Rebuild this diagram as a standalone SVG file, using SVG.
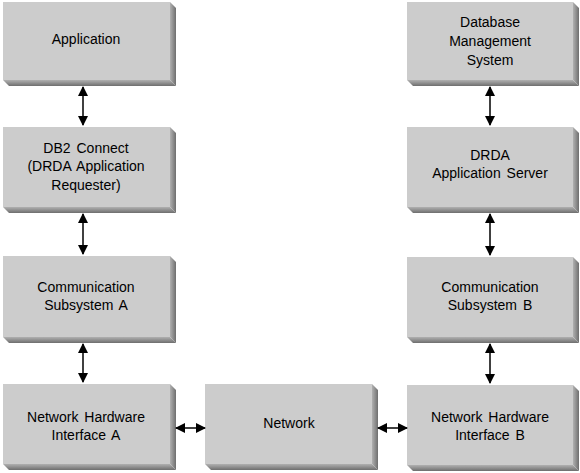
<svg xmlns="http://www.w3.org/2000/svg" width="580" height="473" viewBox="0 0 580 473">
<style>
.face{fill:#cccccc}
.rb{fill:url(#gr)}
.bb{fill:url(#gb)}
text{font-family:"Liberation Sans",Arial,sans-serif;font-size:14px;fill:#000;text-anchor:middle;word-spacing:2px}
.c line{stroke:#000;stroke-width:1.5;marker-start:url(#ah);marker-end:url(#ah)}
</style>
<defs>
<linearGradient id="gr" x1="0" y1="0" x2="1" y2="0">
<stop offset="0" stop-color="#b0b0b0"/><stop offset="0.5" stop-color="#909090"/><stop offset="1" stop-color="#6e6e6e"/>
</linearGradient>
<linearGradient id="gb" x1="0" y1="0" x2="0" y2="1">
<stop offset="0" stop-color="#b0b0b0"/><stop offset="0.5" stop-color="#909090"/><stop offset="1" stop-color="#6e6e6e"/>
</linearGradient>
<marker id="ah" markerWidth="10" markerHeight="10" refX="9" refY="5" orient="auto-start-reverse" markerUnits="userSpaceOnUse" viewBox="0 0 10 10">
<path d="M0,0 L10,5 L0,10 Z" fill="#000"/>
</marker>
</defs>

<g id="application">
<polygon class="rb" points="170,2 176,8 176,86 170,80"/>
<polygon class="bb" points="3,80 170,80 176,86 9,86"/>
<rect class="face" x="3" y="2" width="167" height="78"/>
<text x="86" y="44">Application</text>
</g>

<g id="db2connect">
<polygon class="rb" points="170,127 176,133 176,213 170,207"/>
<polygon class="bb" points="3,207 170,207 176,213 9,213"/>
<rect class="face" x="3" y="127" width="167" height="80"/>
<text x="86" y="153">DB2 Connect</text>
<text x="86" y="171">(DRDA Application</text>
<text x="86" y="190">Requester)</text>
</g>

<g id="commA">
<polygon class="rb" points="170,256 176,262 176,343 170,337"/>
<polygon class="bb" points="3,337 170,337 176,343 9,343"/>
<rect class="face" x="3" y="256" width="167" height="81"/>
<text x="86" y="292">Communication</text>
<text x="86" y="310">Subsystem A</text>
</g>

<g id="nhiA">
<polygon class="rb" points="170,384 176,390 176,470 170,464"/>
<polygon class="bb" points="3,464 170,464 176,470 9,470"/>
<rect class="face" x="3" y="384" width="167" height="80"/>
<text x="86" y="422">Network Hardware</text>
<text x="86" y="440">Interface A</text>
</g>

<g id="network">
<polygon class="rb" points="372,384 378,390 378,470 372,464"/>
<polygon class="bb" points="205,464 372,464 378,470 211,470"/>
<rect class="face" x="205" y="384" width="167" height="80"/>
<text x="289" y="428">Network</text>
</g>

<g id="dbms">
<polygon class="rb" points="573,2 579,8 579,86 573,80"/>
<polygon class="bb" points="407,80 573,80 579,86 413,86"/>
<rect class="face" x="407" y="2" width="166" height="78"/>
<text x="490" y="27">Database</text>
<text x="490" y="46">Management</text>
<text x="490" y="65">System</text>
</g>

<g id="drda">
<polygon class="rb" points="573,127 579,133 579,213 573,207"/>
<polygon class="bb" points="407,207 573,207 579,213 413,213"/>
<rect class="face" x="407" y="127" width="166" height="80"/>
<text x="490" y="160">DRDA</text>
<text x="490" y="178">Application Server</text>
</g>

<g id="commB">
<polygon class="rb" points="573,257 579,263 579,343 573,337"/>
<polygon class="bb" points="407,337 573,337 579,343 413,343"/>
<rect class="face" x="407" y="257" width="166" height="80"/>
<text x="490" y="292">Communication</text>
<text x="490" y="310">Subsystem B</text>
</g>

<g id="nhiB">
<polygon class="rb" points="573,385 579,391 579,471 573,465"/>
<polygon class="bb" points="407,465 573,465 579,471 413,471"/>
<rect class="face" x="407" y="385" width="166" height="80"/>
<text x="490" y="422">Network Hardware</text>
<text x="490" y="440">Interface B</text>
</g>

<g id="connectors" class="c">
<line x1="83" y1="87" x2="83" y2="125"/>
<line x1="83" y1="214" x2="83" y2="254"/>
<line x1="83" y1="344" x2="83" y2="382"/>
<line x1="490" y1="87" x2="490" y2="125"/>
<line x1="490" y1="214" x2="490" y2="255"/>
<line x1="490" y1="344" x2="490" y2="383"/>
<line x1="176" y1="428" x2="205" y2="428"/>
<line x1="378" y1="428" x2="407" y2="428"/>
</g>
</svg>
